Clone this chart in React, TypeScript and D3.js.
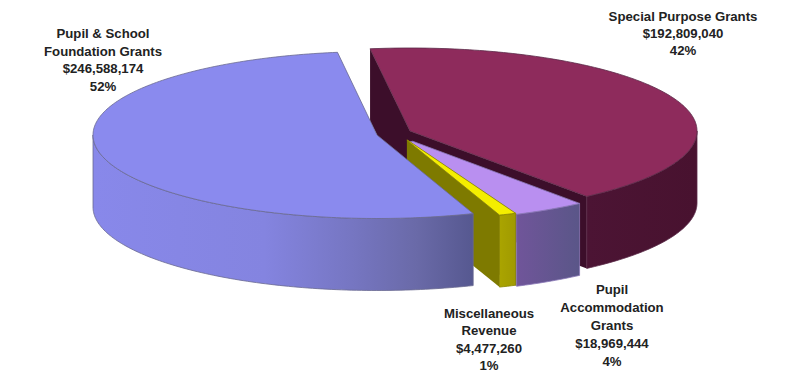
import React from "react";
import * as d3 from "d3";

// Revenue categories, in clockwise drawing order from the top of the pie
const categories = ["Special Purpose Grants", "Pupil Accommodation Grants", "Miscellaneous Revenue", "Pupil & School Foundation Grants"];
const amounts = [192809040, 18969444, 4477260, 246588174];
const amountLabels = ["$192,809,040", "$18,969,444", "$4,477,260", "$246,588,174"];
const percentLabels = ["42%", "4%", "1%", "52%"];

const labelLines = [
  ["Special Purpose Grants"],
  ["Pupil", "Accommodation", "Grants"],
  ["Miscellaneous", "Revenue"],
  ["Pupil & School", "Foundation Grants"],
];

const WIDTH = 802;
const HEIGHT = 372;
const DEPTH = 72;
const START_DEG = -8;

// Exploded centre and radii of each slice, with the hidden tip trimmed by `tip`
const geometry = [
  { cx: 410, cy: 131, rx: 287, ry: 83, tip: 0 },
  { cx: 404, cy: 138, rx: 285, ry: 83, tip: 0.05 },
  { cx: 403, cy: 137, rx: 285, ry: 83, tip: 0.04 },
  { cx: 377, cy: 135, rx: 284, ry: 83.5, tip: 0 },
];

const palette = [
  { top: "#8e2b5c", face: "#3c0e2a", rim: [[0, "#4c1434"], [1, "#48122f"]], stroke: "#5a2a48" },
  { top: "#b98ff0", face: "#7a5ca8", rim: [[0, "#70559a"], [1, "#5a5688"]], stroke: "#8a78b8" },
  { top: "#f4ee00", face: "#7e7a00", rim: [[0, "#aaa400"], [1, "#a09a00"]], stroke: "#8a8600" },
  { top: "#8a8aee", face: "#5a5a9a", rim: [[0, "#8888ea"], [0.45, "#8484e0"], [0.68, "#7676c2"], [0.85, "#6a6aa8"], [1, "#565890"]], stroke: "#6a6a90" },
];

const labelBoxes = [
  { x: 683, y: 21, step: 17 },
  { x: 612, y: 294, step: 18 },
  { x: 489, y: 317.5, step: 17.5 },
  { x: 103, y: 38, step: 17.7 },
];

const pie = d3
  .pie<number>()
  .sort(null)
  .startAngle((START_DEG * Math.PI) / 180)
  .endAngle(((START_DEG + 360) * Math.PI) / 180);

type G = (typeof geometry)[number];
const project = (g: G, a: number, f = 1, dy = 0): [number, number] => [
  g.cx + g.rx * f * Math.sin(a),
  g.cy - g.ry * f * Math.cos(a) + dy,
];

const line = d3.line();
const arcSamples = (a0: number, a1: number) => {
  const n = Math.max(2, Math.ceil(((a1 - a0) * 180) / Math.PI));
  return d3.range(n + 1).map((i) => a0 + ((a1 - a0) * i) / n);
};

export default function App() {
  const arcs = pie(amounts);
  return (
    <svg
      width={WIDTH}
      height={HEIGHT}
      viewBox={`0 0 ${WIDTH} ${HEIGHT}`}
      style={{ position: "absolute", left: 0, top: 0, background: "#fff" }}
    >
      <defs>
        {arcs.map((arc, i) => {
          const g = geometry[i];
          const from = Math.max(arc.startAngle, Math.PI / 2);
          const to = Math.min(arc.endAngle, (3 * Math.PI) / 2);
          const xs = [project(g, from)[0], project(g, to)[0]];
          return (
            <linearGradient
              key={i}
              id={`rim-${i}`}
              gradientUnits="userSpaceOnUse"
              x1={Math.min(...xs)}
              x2={Math.max(...xs)}
              y1={0}
              y2={0}
            >
              {palette[i].rim.map(([o, c]) => (
                <stop key={String(o)} offset={Number(o)} stopColor={String(c)} />
              ))}
            </linearGradient>
          );
        })}
      </defs>

      {arcs.map((arc, i) => {
        const g = geometry[i];
        const c = palette[i];
        const a0 = arc.startAngle;
        const a1 = arc.endAngle;
        const tipStart = project(g, a0, g.tip);
        const tipEnd = project(g, a1, g.tip);
        const topPts = [tipStart, ...arcSamples(a0, a1).map((a) => project(g, a)), tipEnd];

        // Rim is only visible on the front half of the ellipse
        const from = Math.max(a0, Math.PI / 2);
        const to = Math.min(a1, (3 * Math.PI) / 2);
        const samples = arcSamples(from, to);
        const rimPts = [
          ...samples.map((a) => project(g, a)),
          ...samples.slice().reverse().map((a) => project(g, a, 1, DEPTH)),
        ];

        // A radial wall shows when its outward normal points toward the viewer
        const walls = [
          { a: a0, normal: a0 - Math.PI / 2 },
          { a: a1, normal: a1 + Math.PI / 2 },
        ].filter((w) => Math.cos(w.normal) < 0);

        return (
          <g key={categories[i]}>
            {walls.map((w, k) => {
              const pts = [
                project(g, w.a, g.tip),
                project(g, w.a),
                project(g, w.a, 1, DEPTH),
                project(g, w.a, g.tip, DEPTH),
              ];
              return <path key={k} d={line(pts) + "Z"} fill={c.face} />;
            })}
            <path d={line(rimPts) + "Z"} fill={`url(#rim-${i})`} stroke={c.stroke} strokeWidth={0.8} />
            <path d={line(topPts) + "Z"} fill={c.top} stroke={c.stroke} strokeWidth={0.8} />
          </g>
        );
      })}

      <g fontFamily="'Liberation Sans', Arial, sans-serif" fontWeight={700} fontSize={13.2} fill="#222" textAnchor="middle">
        {categories.map((name, i) => {
          const b = labelBoxes[i];
          const lines = [...labelLines[i], amountLabels[i], percentLabels[i]];
          return (
            <text key={name}>
              {lines.map((t, k) => (
                <tspan key={k} x={b.x} y={b.y + k * b.step}>
                  {t}
                </tspan>
              ))}
            </text>
          );
        })}
      </g>
    </svg>
  );
}
